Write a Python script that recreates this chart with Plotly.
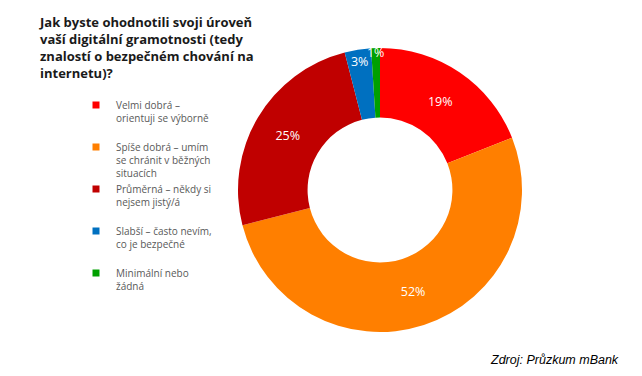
import plotly.graph_objects as go

categories = [
    "Velmi dobrá –<br>orientuji se výborně",
    "Spíše dobrá – umím<br>se chránit v běžných<br>situacích",
    "Průměrná – někdy si<br>nejsem jistý/á",
    "Slabší – často nevím,<br>co je bezpečné",
    "Minimální nebo<br>žádná",
]
values = [19, 52, 25, 3, 1]
colors = ["#FF0000", "#FF7F00", "#C00000", "#0070C0", "#00A000"]

title_text = ("Jak byste ohodnotili svoji úroveň<br>vaší digitální gramotnosti (tedy<br>"
              "znalostí o bezpečném chování na<br>internetu)?")
source_text = "Zdroj: Průzkum mBank"

W, H = 642, 376
def px(x): return x / W
def py(y): return 1 - y / H

fig = go.Figure()
fig.add_trace(go.Pie(
    values=values,
    labels=[c.replace("<br>", " ") for c in categories],
    marker=dict(colors=colors, line=dict(width=0)),
    hole=0.51,
    sort=False,
    direction="clockwise",
    rotation=0,
    texttemplate="%{value}%",
    textposition="inside",
    insidetextorientation="horizontal",
    textfont=dict(color="white", size=12.5, family="Open Sans"),
    showlegend=False,
    hoverinfo="label+percent",
    domain=dict(x=[px(238), px(522)], y=[py(332), py(48)]),
))

# legend entries (pad to 3 lines so spacing is uniform)
for cat, col in zip(categories, colors):
    n = cat.count("<br>") + 1
    txt = cat + "<br> " * (3 - n)
    fig.add_trace(go.Scatter(
        x=[None], y=[None], mode="markers", name=txt,
        marker=dict(symbol="square", size=7, color=col),
        showlegend=True, hoverinfo="skip",
    ))

fig.update_layout(
    width=W, height=H,
    margin=dict(l=0, r=0, t=0, b=0),
    paper_bgcolor="white", plot_bgcolor="white",
    xaxis=dict(visible=False), yaxis=dict(visible=False),
    uniformtext=dict(minsize=12, mode="show"),
    legend=dict(
        x=px(76), y=py(92), xanchor="left", yanchor="top",
        font=dict(family="Open Sans", size=10, color="#595959"),
        valign="top", itemwidth=30, tracegroupgap=0,
        bgcolor="rgba(0,0,0,0)",
    ),
    annotations=[
        dict(text="<b>" + title_text + "</b>", x=px(37), y=py(11), xref="paper", yref="paper",
             xanchor="left", yanchor="top", align="left", showarrow=False,
             font=dict(family="Open Sans", size=13, color="#1a1a1a")),
        dict(text="<i>" + source_text + "</i>", x=px(621), y=py(360), xref="paper", yref="paper",
             xanchor="right", yanchor="middle", showarrow=False,
             font=dict(family="Liberation Sans", size=12.5, color="#000000")),
    ],
)

fig.write_html("out.html", config={"displayModeBar": False},
               post_script="document.body.style.margin='0';document.body.style.overflow='hidden';")
